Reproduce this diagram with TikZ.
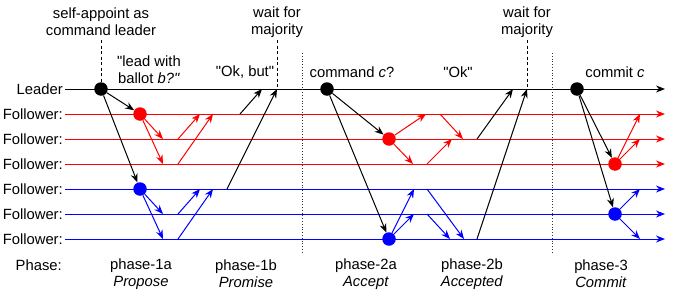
\documentclass[tikz,border=0pt]{standalone}
\usepackage{fontspec}
\newfontfamily\lsans{Liberation Sans}
\usetikzlibrary{arrows.meta}
\begin{document}
\begin{tikzpicture}[x=1pt,y=-1pt,
  every node/.style={font=\lsans\fontsize{14.8}{17.4}\selectfont, inner sep=0pt},
  arr/.style={line width=1pt,-{Stealth[length=9pt,width=7pt]}},
  dot/.style={circle, fill, minimum size=13.5pt, inner sep=0pt},
  sep/.style={dotted, line width=0.8pt, black!80},
  wait/.style={dashed, line width=1pt, dash pattern=on 3pt off 2.5pt}]
\useasboundingbox (0,0) rectangle (677,300);

% time lines
\foreach \y/\c/\n/\t in {89/black/L/Leader, 114/red/F1/Follower:, 139/red/F2/Follower:, 164/red/F3/Follower:, 189/blue/F4/Follower:, 214/blue/F5/Follower:, 239/blue/F6/Follower:}{
  \coordinate (\n s) at (65,\y);
  \coordinate (\n e) at (665,\y);
  \draw[arr,\c] (\n s) -- (\n e);
  \node[anchor=east] (lab\n) at (63,\y) {\t};
}
\node[anchor=east] (labP) at (62,265) {Phase:};

% separators
\coordinate (s1t) at (302,53); \coordinate (s1b) at (302,252);
\coordinate (s2t) at (552,53); \coordinate (s2b) at (552,252);
\draw[sep] (s1t) -- (s1b);
\draw[sep] (s2t) -- (s2b);

% ---------- phase 1 ----------
\node[dot] (A0) at (101,89) {};
\node[dot,red] (A1) at (140,114) {};
\node[dot,blue] (A4) at (140,189) {};
\coordinate (A0t) at (101,40);
\draw[wait] (A0t) -- (A0);
\draw[arr] (A0) -- (A1);
\draw[arr] (A0) -- (A4);
% red
\coordinate (a12) at (163,139); \coordinate (a13) at (163,164);
\draw[arr,red] (A1) -- (a12);
\draw[arr,red] (A1) -- (a13);
\coordinate (b12) at (178,139); \coordinate (c12) at (200,114);
\coordinate (b13) at (178,164); \coordinate (c13) at (213,114);
\draw[arr,red] (b12) -- (c12);
\draw[arr,red] (b13) -- (c13);
% blue
\coordinate (a45) at (163,214); \coordinate (a46) at (163,239);
\draw[arr,blue] (A4) -- (a45);
\draw[arr,blue] (A4) -- (a46);
\coordinate (b45) at (178,214); \coordinate (c45) at (200,189);
\coordinate (b46) at (178,239); \coordinate (c46) at (213,189);
\draw[arr,blue] (b45) -- (c45);
\draw[arr,blue] (b46) -- (c46);
% replies
\coordinate (b11) at (240,114); \coordinate (c11) at (262,89);
\coordinate (b14) at (227,189); \coordinate (W1) at (277,89);
\draw[arr] (b11) -- (c11);
\draw[arr] (b14) -- (W1);
\coordinate (W1t) at (277,40);
\draw[wait] (W1t) -- (W1);

% ---------- phase 2 ----------
\node[dot] (B0) at (327,89) {};
\node[dot,red] (B2) at (389,139) {};
\node[dot,blue] (B6) at (389,239) {};
\draw[arr] (B0) -- (B2);
\draw[arr] (B0) -- (B6);
% red
\coordinate (d21) at (426,114); \coordinate (d23) at (413,164);
\draw[arr,red] (B2) -- (d21);
\draw[arr,red] (B2) -- (d23);
\coordinate (e21) at (440,114); \coordinate (f21) at (463,139);
\coordinate (e23) at (427,164); \coordinate (f23) at (452,139);
\draw[arr,red] (e21) -- (f21);
\draw[arr,red] (e23) -- (f23);
% blue
\coordinate (d64) at (414,189); \coordinate (d65) at (414,214);
\draw[arr,blue] (B6) -- (d64);
\draw[arr,blue] (B6) -- (d65);
\coordinate (e64) at (427,189); \coordinate (f64) at (464,239);
\coordinate (e65) at (427,214); \coordinate (f65) at (450,239);
\draw[arr,blue] (e64) -- (f64);
\draw[arr,blue] (e65) -- (f65);
% replies
\coordinate (g2) at (477,139); \coordinate (h2) at (513,89);
\coordinate (g6) at (477,239); \coordinate (W2) at (527,89);
\draw[arr] (g2) -- (h2);
\draw[arr] (g6) -- (W2);
\coordinate (W2t) at (527,40);
\draw[wait] (W2t) -- (W2);

% ---------- phase 3 ----------
\node[dot] (C0) at (577,89) {};
\node[dot,red] (C3) at (615,164) {};
\node[dot,blue] (C5) at (615,214) {};
\draw[arr] (C0) -- (C3);
\draw[arr] (C0) -- (C5);
\coordinate (k31) at (640,114); \coordinate (k32) at (640,139);
\draw[arr,red] (C3) -- (k31);
\draw[arr,red] (C3) -- (k32);
\coordinate (k54) at (640,189); \coordinate (k56) at (640,239);
\draw[arr,blue] (C5) -- (k54);
\draw[arr,blue] (C5) -- (k56);

% ---------- texts ----------
\node[align=center] (t1) at (101,22) {self-appoint as\\command leader};
\node[align=center] (t2) at (149,70) {"lead with\\ballot \textit{b?"}};
\node (t3) at (245,72) {"Ok, but"};
\node[align=center] (t4) at (277,22) {wait for\\majority};
\node (t5) at (352,72) {command \textit{c}?};
\node (t6) at (458,72) {"Ok"};
\node[align=center] (t7) at (527,22) {wait for\\majority};
\node (t8) at (615,72) {commit \textit{c}};

\node[align=center] (p1) at (141,274) {phase-1a\\\textit{Propose}};
\node[align=center] (p2) at (246,274) {phase-1b\\\textit{Promise}};
\node[align=center] (p3) at (366,274) {phase-2a\\\textit{Accept}};
\node[align=center] (p4) at (472,274) {phase-2b\\\textit{Accepted}};
\node[align=center] (p5) at (601,274) {phase-3\\\textit{Commit}};
\end{tikzpicture}
\end{document}
